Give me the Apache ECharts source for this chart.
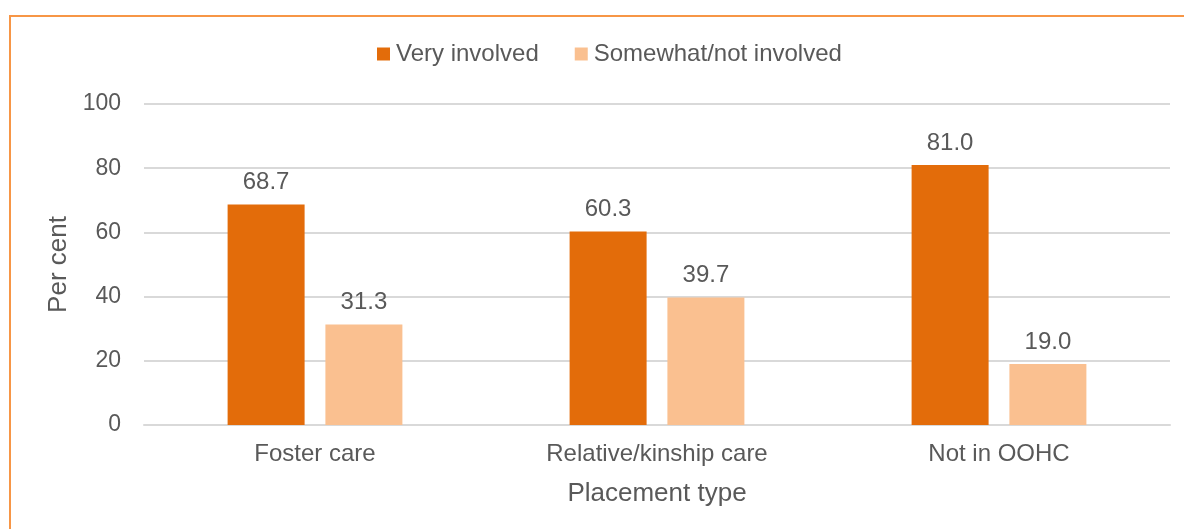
<!DOCTYPE html>
<html><head><meta charset="utf-8">
<script src="https://cdn.jsdelivr.net/npm/echarts@6/dist/echarts.min.js"></script>
<style>
html,body{margin:0;padding:0;background:#fff;overflow:hidden;}
#frame{position:absolute;left:9px;top:15px;width:1300px;height:700px;border-top:2px solid #F79646;border-left:2px solid #F79646;box-sizing:border-box;}
#chart{position:absolute;left:0;top:0;width:1184px;height:529px;}
</style></head>
<body>
<div id="frame"></div>
<div id="chart"></div>
<script>
const categories = ['Foster care', 'Relative/kinship care', 'Not in OOHC'];
const veryInvolved = [68.7, 60.3, 81.0];
const somewhatNot = [31.3, 39.7, 19.0];
const seriesNames = ['Very involved', 'Somewhat/not involved'];

const txt = '#595959';
const font = '"Liberation Sans", Arial, sans-serif';
const chart = echarts.init(document.getElementById('chart'));
const lbl = {show:true, position:'top', distance:10, color:txt, fontSize:24, fontFamily:font, formatter:p=>p.value.toFixed(1)};
chart.setOption({
  animation:false,
  textStyle:{fontFamily:font},
  legend:{top:37, left:372, icon:'rect', itemWidth:13, itemHeight:13, itemGap:36,
    textStyle:{color:txt, fontSize:24, fontFamily:font, padding:[0,0,0,1]},
    data:seriesNames},
  grid:{left:144, right:14, top:104, bottom:104, containLabel:false},
  xAxis:{type:'category', data:categories,
    name:'Placement type', nameLocation:'middle', nameGap:56,
    nameTextStyle:{color:txt, fontSize:26, fontFamily:font},
    axisLine:{lineStyle:{color:'#D9D9D9', width:2}}, axisTick:{show:false},
    axisLabel:{color:txt, fontSize:24, fontFamily:font, margin:17}},
  yAxis:{type:'value', min:0, max:100, interval:20,
    name:'Per cent', nameLocation:'middle', nameGap:68,
    nameTextStyle:{color:txt, fontSize:26, fontFamily:font},
    axisLine:{show:false}, axisTick:{show:false},
    splitLine:{lineStyle:{color:'#D9D9D9', width:2}},
    axisLabel:{color:txt, fontSize:23, fontFamily:font, margin:23}},
  series:[
    {name:seriesNames[0], type:'bar', data:veryInvolved, barWidth:77, barGap:'27%', itemStyle:{color:'#E36C0A'}, label:lbl},
    {name:seriesNames[1], type:'bar', data:somewhatNot, barWidth:77, itemStyle:{color:'#FAC090'}, label:lbl}
  ]
});
</script>
</body></html>
